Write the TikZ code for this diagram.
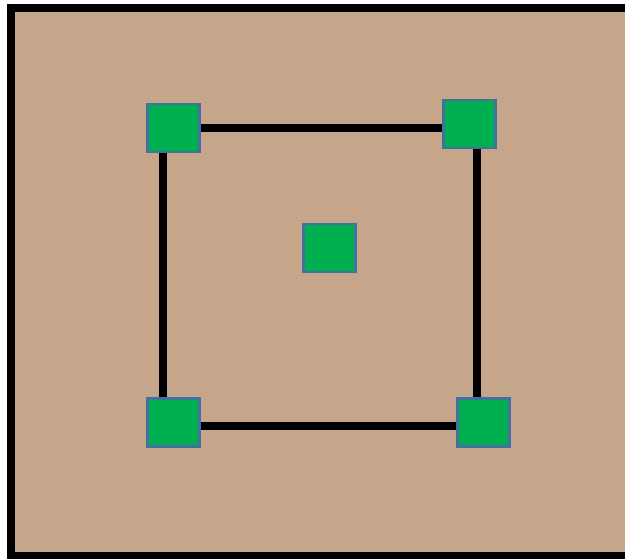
\documentclass[tikz,border=0pt]{standalone}
\usepackage{tikz}
\usetikzlibrary{calc, backgrounds}

\definecolor{tanbg}{HTML}{C5A68A}
\definecolor{padgreen}{HTML}{00B050}
\definecolor{padedge}{HTML}{41719C}

\begin{document}
\begin{tikzpicture}[x=0.02cm, y=-0.02cm,
    pad/.style={draw=padedge, fill=padgreen, line width=0.05cm, inner sep=0pt,
                minimum width=1.04cm, minimum height=0.96cm},
    wire/.style={line width=0.16cm, black}]
    \useasboundingbox (0,0) rectangle (625,558);
    \clip (0,0) rectangle (625,558);
    % pads
    \node[pad] (tl) at (173.5,128) {};
    \node[pad] (tr) at (469.5,124) {};
    \node[pad] (bl) at (173.5,422.5) {};
    \node[pad] (br) at (483.5,422.5) {};
    \node[pad] (ctr) at (329.5,248) {};
    \begin{scope}[on background layer]
        \draw[line width=0.16cm, fill=tanbg] (11,8) rectangle (640,556);
        % loop between the corner pads
        \draw[wire] (tl.east) -- (tl.east -| tr.west);
        \draw[wire] ($(tl.south west)!0.3!(tl.south east)$) coordinate (lt)
            -- (lt |- bl.north);
        \draw[wire] ($(tr.south west)!0.64!(tr.south east)$) coordinate (rt)
            -- (rt |- br.north);
        \draw[wire] ([yshift=-0.07cm]bl.east) coordinate (bt)
            -- (bt -| br.west);
    \end{scope}
\end{tikzpicture}
\end{document}
